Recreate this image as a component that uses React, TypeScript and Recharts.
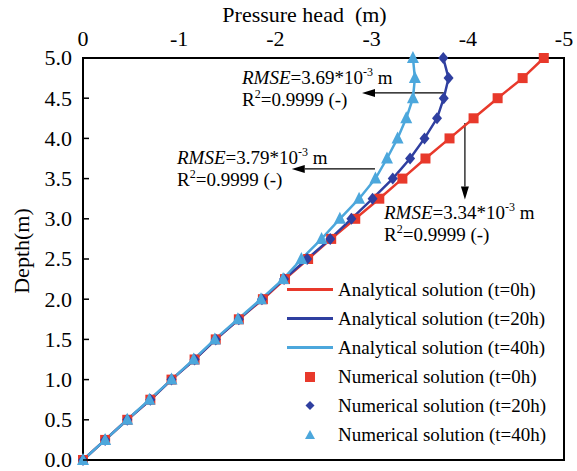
import React from 'react';
import {
  ComposedChart,
  Scatter,
  XAxis,
  YAxis,
  Label,
  Legend,
  ReferenceArea,
  ReferenceLine,
  ReferenceDot,
} from 'recharts';

// depth of each node (m)
const DEPTH = [0, 0.25, 0.5, 0.75, 1.0, 1.25, 1.5, 1.75, 2.0, 2.25, 2.5, 2.75, 3.0, 3.25, 3.5, 3.75, 4.0, 4.25, 4.5, 4.75, 5.0];

// pressure head (m) at each depth
const HEAD_0H = [0, -0.23, -0.46, -0.7, -0.92, -1.16, -1.38, -1.62, -1.87, -2.1, -2.34, -2.58, -2.83, -3.08, -3.32, -3.56, -3.81, -4.06, -4.31, -4.57, -4.79];
const HEAD_20H = [0, -0.23, -0.46, -0.7, -0.92, -1.16, -1.38, -1.62, -1.86, -2.09, -2.33, -2.57, -2.79, -3.01, -3.22, -3.4, -3.55, -3.68, -3.75, -3.8, -3.745];
const HEAD_40H = [0, -0.23, -0.46, -0.69, -0.92, -1.15, -1.37, -1.61, -1.85, -2.08, -2.27, -2.48, -2.67, -2.87, -3.04, -3.16, -3.27, -3.36, -3.43, -3.45, -3.43];

const X_TICKS = [0, -1, -2, -3, -4, -5];
const X_INNER_TICKS = [-1, -2, -3, -4];
const Y_TICKS = [0, 0.5, 1.0, 1.5, 2.0, 2.5, 3.0, 3.5, 4.0, 4.5, 5.0];

const RMSE_0H = '3.34';
const RMSE_20H = '3.69';
const RMSE_40H = '3.79';
const R2 = '0.9999';

const RED = '#E8392B';
const BLUE = '#2F3FA0';
const LIGHT = '#4CA7DC';
const FONT = '"Liberation Serif", "Times New Roman", serif';

const toPoints = (heads: number[]) => DEPTH.map((d, i) => ({ h: heads[i], d }));

const SERIES = [
  { t: '0h', heads: HEAD_0H, color: RED, marker: 'square' },
  { t: '20h', heads: HEAD_20H, color: BLUE, marker: 'diamond' },
  { t: '40h', heads: HEAD_40H, color: LIGHT, marker: 'triangle' },
];

// text anchor (start, first baseline) and arrow, in data units
const NOTES = [
  { rmse: RMSE_20H, tx: -1.653, ty: 4.677, from: { x: -3.75, y: 4.565 }, to: { x: -2.9, y: 4.565 } },
  { rmse: RMSE_40H, tx: -0.977, ty: 3.68, from: { x: -3.035, y: 3.62 }, to: { x: -2.17, y: 3.62 } },
  { rmse: RMSE_0H, tx: -3.129, ty: 3.0, from: { x: -3.97, y: 4.19 }, to: { x: -3.97, y: 3.24 } },
];

const Square = ({ cx, cy, fill }: any) => <rect x={cx - 5} y={cy - 5} width={10} height={10} fill={fill} />;
const Diamond = ({ cx, cy, fill }: any) => (
  <polygon points={`${cx},${cy - 6} ${cx + 5},${cy} ${cx},${cy + 6} ${cx - 5},${cy}`} fill={fill} />
);
const Triangle = ({ cx, cy, fill }: any) => (
  <polygon points={`${cx},${cy - 7} ${cx + 6},${cy + 5} ${cx - 6},${cy + 5}`} fill={fill} />
);
const NoShape = () => <g />;

const MARKERS: Record<string, any> = { square: Square, diamond: Diamond, triangle: Triangle };

const YTick = ({ x, y, payload }: any) => (
  <g>
    <text x={x} y={y} dy="0.34em" textAnchor="end" fontSize={22} fontFamily={FONT} fill="#000">
      {Number(payload.value).toFixed(1)}
    </text>
    <line x1={x + 11} x2={x + 17} y1={y} y2={y} stroke="#000" strokeWidth={1.5} />
  </g>
);

const DepthLabel = ({ viewBox }: any) => {
  const x = viewBox.x + 29;
  const y = viewBox.y + viewBox.height / 2 - 8;
  return (
    <text x={x} y={y} transform={`rotate(-90 ${x} ${y})`} textAnchor="middle" fontSize={22} fontFamily={FONT} fill="#000">
      Depth(m)
    </text>
  );
};

const Arrow = ({ x1, y1, x2, y2 }: any) => {
  const len = Math.hypot(x2 - x1, y2 - y1) || 1;
  const ux = (x2 - x1) / len;
  const uy = (y2 - y1) / len;
  const hl = 13;
  const hw = 4;
  const bx = x2 - ux * hl;
  const by = y2 - uy * hl;
  return (
    <g>
      <line x1={x1} y1={y1} x2={bx} y2={by} stroke="#000" strokeWidth={1.2} />
      <polygon
        points={`${x2},${y2} ${bx - uy * hw},${by + ux * hw} ${bx + uy * hw},${by - ux * hw}`}
        fill="#000"
      />
    </g>
  );
};

const noteText = (rmse: string) => ({ cx, cy }: any) => (
  <g fontFamily={FONT} fontSize={19} fill="#000">
    <text x={cx} y={cy}>
      <tspan fontStyle="italic">RMSE</tspan>
      <tspan>={rmse}*10</tspan>
      <tspan dy={-8} fontSize={12}>-3</tspan>
      <tspan dy={8}> m</tspan>
    </text>
    <text x={cx} y={cy + 22}>
      R<tspan dy={-8} fontSize={12}>2</tspan>
      <tspan dy={8}>={R2} (-)</tspan>
    </text>
  </g>
);

const legendIcon = (type: string, color: string) => {
  if (type === 'line') return <line x1={2} x2={48} y1={14.5} y2={14.5} stroke={color} strokeWidth={3} />;
  if (type === 'square') return <rect x={20} y={10} width={10} height={10} fill={color} />;
  if (type === 'diamond') return <polygon points="25,10 29.5,14.5 25,19 20.5,14.5" fill={color} />;
  return <polygon points="25,10 30,19 20,19" fill={color} />;
};

const renderLegend = (props: any) => (
  <div style={{ fontFamily: FONT, fontSize: 19, color: '#000' }}>
    {(props.payload || []).map((entry: any) => (
      <div key={entry.value} style={{ display: 'flex', alignItems: 'center', height: 29 }}>
        <svg width={50} height={29} style={{ flex: 'none' }}>
          {legendIcon(entry.type, entry.color)}
        </svg>
        <span style={{ marginLeft: 3, whiteSpace: 'nowrap' }}>{entry.value}</span>
      </div>
    ))}
  </div>
);

export default function App() {
  return (
    <div style={{ position: 'absolute', left: 0, top: 0, background: '#fff' }}>
      <ComposedChart width={577} height={471} margin={{ top: 0, right: 13, bottom: 11, left: 0 }}>
        <XAxis
          xAxisId="top"
          orientation="top"
          dataKey="h"
          type="number"
          domain={[-5, 0]}
          reversed
          ticks={X_TICKS}
          interval={0}
          height={58}
          axisLine={false}
          tickLine={false}
          tickSize={0}
          tickMargin={12}
          tick={{ fontSize: 22, fontFamily: FONT, fill: '#000' }}
        >
          <Label
            value={'Pressure head \u00A0(m)'}
            position="insideTop"
            offset={6}
            dx={-19}
            fontSize={22}
            fontFamily={FONT}
            fill="#000"
          />
        </XAxis>
        <XAxis
          xAxisId="bottom"
          orientation="bottom"
          dataKey="h"
          type="number"
          domain={[-5, 0]}
          reversed
          ticks={X_INNER_TICKS}
          interval={0}
          mirror
          height={1}
          axisLine={false}
          tick={false}
          tickSize={7}
          tickLine={{ stroke: '#000', strokeWidth: 1.5 }}
        />
        <YAxis
          dataKey="d"
          type="number"
          domain={[0, 5]}
          ticks={Y_TICKS}
          interval={0}
          width={83}
          axisLine={false}
          tickLine={false}
          tickSize={0}
          tickMargin={11}
          tick={<YTick />}
        >
          <Label content={<DepthLabel />} />
        </YAxis>

        {SERIES.map((s) => (
          <Scatter
            key={`a-${s.t}`}
            name={`Analytical solution (t=${s.t})`}
            data={toPoints(s.heads)}
            xAxisId="bottom"
            fill={s.color}
            line={{ stroke: s.color, strokeWidth: 2.5 }}
            lineJointType="linear"
            shape={<NoShape />}
            legendType="line"
            isAnimationActive={false}
          />
        ))}
        {SERIES.map((s) => {
          const M = MARKERS[s.marker];
          return (
            <Scatter
              key={`n-${s.t}`}
              name={`Numerical solution (t=${s.t})`}
              data={toPoints(s.heads)}
              xAxisId="top"
              fill={s.color}
              shape={<M />}
              legendType={s.marker as any}
              isAnimationActive={false}
            />
          );
        })}

        <ReferenceArea xAxisId="top" x1={-5} x2={0} y1={0} y2={5} fill="none" stroke="#000" strokeWidth={2} />

        {NOTES.map((n) => (
          <ReferenceLine
            key={`arrow-${n.rmse}`}
            xAxisId="top"
            segment={[n.from, n.to]}
            shape={<Arrow />}
          />
        ))}
        {NOTES.map((n) => (
          <ReferenceDot
            key={`note-${n.rmse}`}
            xAxisId="top"
            x={n.tx}
            y={n.ty}
            r={0}
            shape={noteText(n.rmse)}
          />
        ))}

        <Legend
          layout="vertical"
          align="center"
          verticalAlign="middle"
          wrapperStyle={{ left: 285, top: 275, width: 280 }}
          content={renderLegend}
        />
      </ComposedChart>
    </div>
  );
}
